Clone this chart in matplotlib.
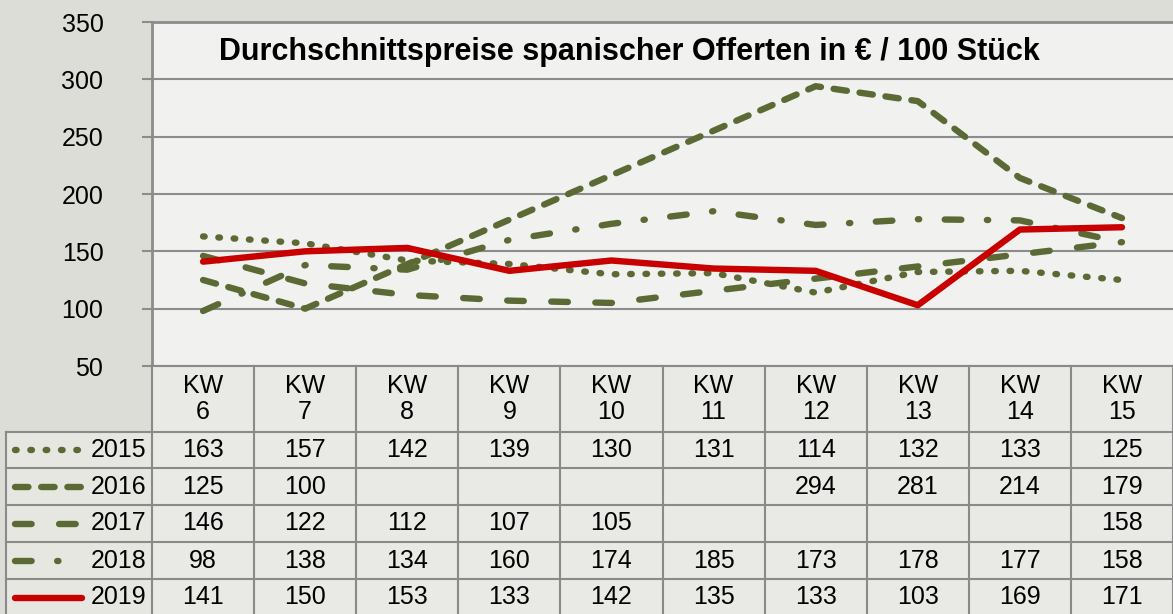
import numpy as np
import matplotlib
matplotlib.use("Agg")
import matplotlib.pyplot as plt

plt.rcParams['font.family'] = ['Liberation Sans', 'DejaVu Sans']

# data from the table
weeks = ["6", "7", "8", "9", "10", "11", "12", "13", "14", "15"]
years = ["2015", "2016", "2017", "2018", "2019"]
p2015 = [163, 157, 142, 139, 130, 131, 114, 132, 133, 125]
p2016 = [125, 100, None, None, None, None, 294, 281, 214, 179]
p2017 = [146, 122, 112, 107, 105, None, None, None, None, 158]
p2018 = [98, 138, 134, 160, 174, 185, 173, 178, 177, 158]
p2019 = [141, 150, 153, 133, 142, 135, 133, 103, 169, 171]
series = [p2015, p2016, p2017, p2018, p2019]

olive = '#5b6a34'
red = '#c80000'
styles = [
    dict(color=olive, ls=(0, (0.25, 2.15))),
    dict(color=olive, ls=(0, (2.1, 2.0))),
    dict(color=olive, ls=(0, (2.6, 4.3))),
    dict(color=olive, ls=(0, (2.6, 4.0, 0.2, 4.0))),
    dict(color=red, ls='-'),
]
LW = 4.6

W, H = 1173, 614
fig = plt.figure(figsize=(W / 100, H / 100), dpi=100)
fig.patch.set_facecolor('#dcddd6')

left, right, top, bottom = 152, 1173, 22, 366
ax = fig.add_axes([left / W, 1 - bottom / H, (right - left) / W, (bottom - top) / H])
ax.set_facecolor('#f1f1ef')
n = len(weeks)
x = np.arange(n)
for vals, st in zip(series, styles):
    v = np.array([np.nan if a is None else a for a in vals], dtype=float)
    m = ~np.isnan(v)
    ax.plot(x[m], v[m], lw=LW, color=st['color'], ls=st['ls'],
            solid_capstyle='round', dash_capstyle='round', zorder=3)
ax.set_xlim(-0.5, n - 0.5)
ax.set_ylim(50, 350)
ax.set_yticks(range(50, 351, 50))
ax.yaxis.grid(True, color='#8c8c8c', lw=1.5)
ax.set_axisbelow(True)
ax.set_xticks([])
ax.tick_params(axis='y', length=7, width=1.5, color='#8c8c8c', labelsize=18, pad=28)
for lab in ax.get_yticklabels():
    lab.set_horizontalalignment('right')
for s in ['left', 'top']:
    ax.spines[s].set_color('#8c8c8c')
    ax.spines[s].set_linewidth(2)
for s in ['right', 'bottom']:
    ax.spines[s].set_visible(False)
ax.set_title('Durchschnittspreise spanischer Offerten in € / 100 Stück',
             fontsize=22, fontweight='bold', y=0.865, x=0.468)

# table below the plot, in pixel coordinates
tab = fig.add_axes([0, 0, 1, 1])
tab.set_xlim(0, W)
tab.set_ylim(H, 0)
tab.axis('off')
tab.patch.set_alpha(0)
colw = (right - left) / n
row_edges = [366, 432, 468, 505, 542, 579, 616]
gc = '#8a8a8a'
tab.add_patch(plt.Rectangle((left, 366), right - left, 250, color='#e9eae5', zorder=0))
tab.add_patch(plt.Rectangle((6, 432), left - 6, 184, color='#e6e7e1', zorder=0))
for i in range(n + 1):
    xe = left + i * colw
    tab.plot([xe, xe], [366, 616], color=gc, lw=1.5)
tab.plot([6, 6], [432, 616], color=gc, lw=1.5)
tab.plot([left, right], [366, 366], color=gc, lw=1.5)
for yb in row_edges[1:-1]:
    tab.plot([6, right], [yb, yb], color=gc, lw=1.5)
for i, w in enumerate(weeks):
    tab.text(left + (i + 0.5) * colw, 399, 'KW\n' + w, ha='center', va='center',
             fontsize=18, linespacing=1.15)
for r, (yr, vals, st) in enumerate(zip(years, series, styles)):
    yc = (row_edges[r + 1] + row_edges[r + 2]) / 2
    tab.plot([15, 82], [yc, yc], lw=LW, color=st['color'], ls=st['ls'],
             solid_capstyle='round', dash_capstyle='round')
    tab.text(146, yc, yr, ha='right', va='center', fontsize=18)
    for i, v in enumerate(vals):
        if v is not None:
            tab.text(left + (i + 0.5) * colw, yc, str(v), ha='center', va='center',
                     fontsize=18)

fig.savefig('out.png', dpi=100, facecolor=fig.get_facecolor())
